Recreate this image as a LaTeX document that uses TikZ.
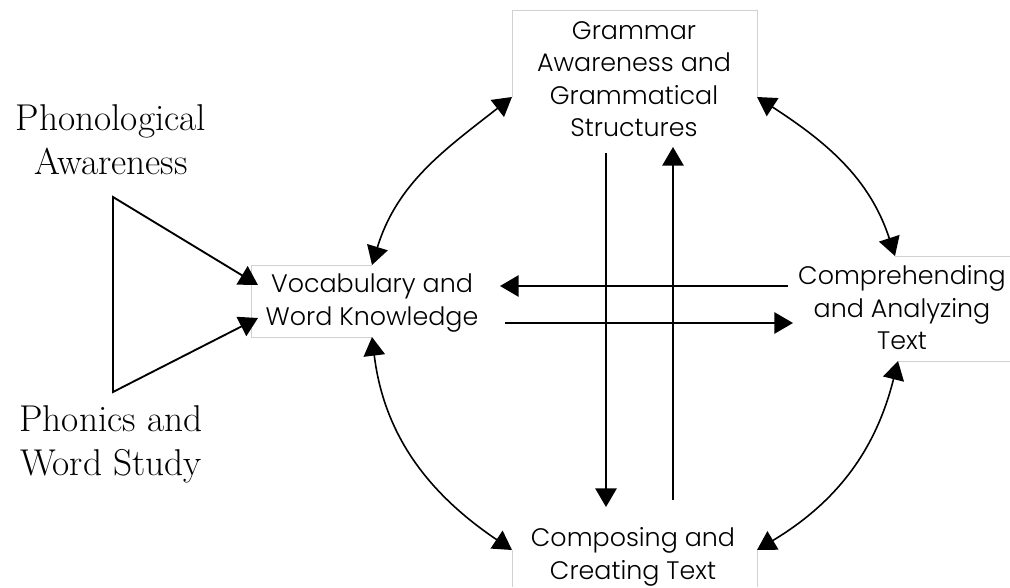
\documentclass[tikz,border=0pt]{standalone}
\usepackage{fontspec}
\newfontfamily\gothic{Poppins}[UprightFont=* Light]
\usetikzlibrary{arrows.meta}
\begin{document}
\begin{tikzpicture}[x=0.75pt,y=0.75pt,
  boxline/.style={draw=black!18,line width=0.75pt},
  conn/.style={line width=1.4pt,-{Triangle[length=14pt,width=16pt]}},
  dconn/.style={line width=1.2pt,{Triangle[length=14pt,width=16pt]}-{Triangle[length=14pt,width=16pt]}},
  lbl/.style={align=center,font=\gothic\fontsize{19}{24.4}\selectfont,inner sep=0pt},
  serif/.style={align=center,font=\rmfamily\fontsize{28}{33}\selectfont,inner sep=0pt}]
\useasboundingbox (0,0) rectangle (1010,587);
% box corner coordinates
\coordinate (GL) at (512,490);
\coordinate (GR) at (757,490);
\coordinate (VT) at (372,322);
\coordinate (VB) at (372,250);
\coordinate (CT) at (895,331);
\coordinate (CB) at (898,226);
\coordinate (WL) at (512,37);
\coordinate (WR) at (757,37);
% partial box outlines
\draw[boxline] (GL) -- (512,576) -- (757,576) -- (GR);
\draw[boxline] (VT) -- (251,322) -- (251,250) -- (VB);
\draw[boxline] (CT) -- (1010,331);
\draw[boxline] (CB) -- (1010,226);
\draw[boxline] (WL) -- (512,0);
\draw[boxline] (WR) -- (757,0);
% texts
\node[lbl] (G) at (634,508) {Grammar\\Awareness and\\Grammatical\\Structures};
\node[lbl] (V) at (372,284) {Vocabulary and\\Word Knowledge};
\node[lbl] (C) at (902,279) {Comprehending\\and Analyzing\\Text};
\node[lbl] (W) at (633,30) {Composing and\\Creating Text};
\node[serif] (PA) at (111,447) {Phonological\\Awareness};
\node[serif] (PW) at (111,143) {Phonics and\\Word Study};
% curved double arrows
\draw[dconn] (VT) to[out=73,in=218] (GL);
\draw[dconn] (GR) to[out=-33,in=108] (CT);
\draw[dconn] (CB) to[out=256,in=31] (WR);
\draw[dconn] (VB) to[out=-83,in=146] (WL);
% straight arrows
\coordinate (h1s) at (788,301); \coordinate (h1e) at (500,301);
\coordinate (h2s) at (505,264); \coordinate (h2e) at (793,264);
\coordinate (v1s) at (606,434); \coordinate (v1e) at (606,80);
\coordinate (v2s) at (673,87);  \coordinate (v2e) at (673,440);
\draw[conn] (h1s) -- (h1e);
\draw[conn] (h2s) -- (h2e);
\draw[conn] (v1s) -- (v1e);
\draw[conn] (v2s) -- (v2e);
% triangle funnel
\coordinate (Ttop) at (113,390);
\coordinate (Tbot) at (113,195);
\coordinate (Ta) at (258,302);
\coordinate (Tb) at (258,269);
\draw[line width=1.4pt,{Triangle[length=14pt,width=16pt]}-{Triangle[length=14pt,width=16pt]},line join=miter] (Ta) -- (Ttop) -- (Tbot) -- (Tb);
\end{tikzpicture}
\end{document}
